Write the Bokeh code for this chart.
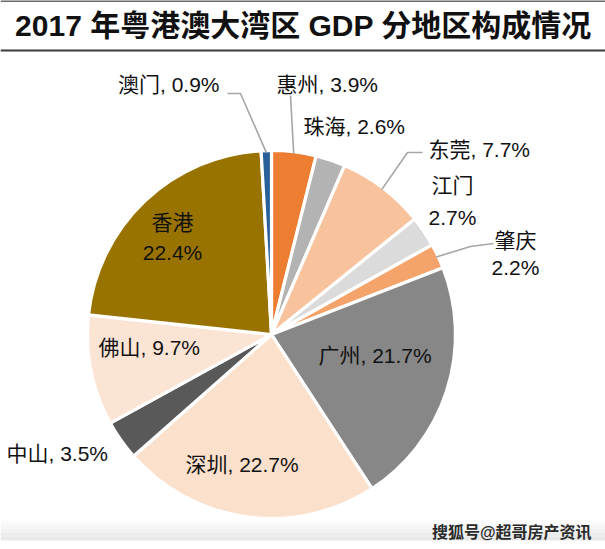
import numpy as np
from bokeh.plotting import figure
from bokeh.models import ColumnDataSource, Range1d
from bokeh.core.properties import value
from bokeh.embed import file_html
from bokeh.resources import INLINE

# ---------------- data ----------------
regions = ["惠州", "珠海", "东莞", "江门", "肇庆", "广州", "深圳", "中山", "佛山", "香港", "澳门"]
shares = [3.9, 2.6, 7.7, 2.7, 2.2, 21.7, 22.7, 3.5, 9.7, 22.4, 0.9]
colors = ["#ED7D31", "#B3B3B3", "#F8C29C", "#DBDBDB", "#F4A46A", "#878787",
          "#FBE0CC", "#595959", "#FCE4D4", "#997300", "#2A6099"]
title_text = "2017 年粤港澳大湾区 GDP 分地区构成情况"
watermark = "搜狐号@超哥房产资讯"

# ---------------- layout ----------------
W, H = 605, 549
def Y(py):  # pixel row -> data y
    return H - py

cx, cy, R = 271, Y(334), 184
FONT = "Liberation Sans, Noto Sans CJK SC"
BOLD_FONT = "Liberation Sans, Noto Sans CJK SC"

vals = np.array(shares, dtype=float)
frac = vals / vals.sum()
cum_end = np.cumsum(frac)
cum_start = cum_end - frac
start_angle = np.pi / 2 - 2 * np.pi * cum_end
end_angle = np.pi / 2 - 2 * np.pi * cum_start
mid_angle = (start_angle + end_angle) / 2

p = figure(width=W, height=H, x_range=Range1d(0, W), y_range=Range1d(0, H),
           output_backend="svg", toolbar_location=None, min_border=0)
p.axis.visible = False
p.grid.visible = False
p.outline_line_color = None
p.background_fill_color = "white"
p.border_fill_color = "white"

# title rules
p.segment(x0=[0, 0], y0=[Y(0.5), Y(50)], x1=[W, W], y1=[Y(0.5), Y(50)],
          line_color="#3a3a3a", line_width=[1.5, 2.2])
p.text(x=[W / 2 + 0.5], y=[Y(25)], text=[title_text], text_font=value(BOLD_FONT),
       text_font_style="bold", text_font_size="30px", text_align="center",
       text_baseline="middle", text_color="#111111")

# bottom watermark band
band_tops = [520, 524, 528, 532, 536]
band_cols = ["#fbfbfb", "#f6f6f6", "#f1f1f1", "#ececec", "#e8e8e8"]
p.quad(left=0, right=W, top=[Y(t) for t in band_tops], bottom=[Y(t + 4) for t in band_tops],
       fill_color=band_cols, line_color=None)

# pie
src = ColumnDataSource(dict(start=start_angle, end=end_angle, color=colors))
p.wedge(x=cx, y=cy, radius=R, start_angle="start", end_angle="end",
        fill_color="color", line_color="white", line_width=3.2, source=src)

# leader lines (inner end from slice mid-angle, outer end is label layout)
idx = {n: i for i, n in enumerate(regions)}
def edge_pt(name, rr=R - 2):
    a = mid_angle[idx[name]]
    return cx + rr * np.cos(a), cy + rr * np.sin(a)

leaders = {
    "澳门": [(227, 93), (240, 93)],
    "惠州": [(290, 95)],
    "东莞": [(422, 152), (407, 152)],
    "肇庆": [(493, 243), (470, 246)],
}
for name, pts in leaders.items():
    ex, ey = edge_pt(name)
    xs = [px for px, py in pts] + [ex]
    ys = [Y(py) for px, py in pts] + [ey]
    p.line(xs, ys, line_color="#A6A6A6", line_width=1.6)

# labels
def pct(name):
    return f"{shares[idx[name]]}%"

one_line = [  # name, x, y(pixel), align
    ("澳门", 219, 84, "right"),
    ("惠州", 276, 84, "left"),
    ("珠海", 303, 126, "left"),
    ("东莞", 428, 149, "left"),
    ("佛山", 98, 347, "left"),
    ("广州", 318, 355, "left"),
    ("中山", 6, 453, "left"),
    ("深圳", 185, 464, "left"),
]
two_line = [  # name, x center, y name, y pct
    ("江门", 452, 185, 217),
    ("肇庆", 515, 240, 267),
    ("香港", 172, 222, 252),
]

lab_x, lab_y, lab_t, lab_a = [], [], [], []
for name, x, y, a in one_line:
    lab_x.append(x); lab_y.append(Y(y)); lab_t.append(f"{name}, {pct(name)}"); lab_a.append(a)
for name, x, y1, y2 in two_line:
    lab_x += [x, x]; lab_y += [Y(y1), Y(y2)]; lab_t += [name, pct(name)]; lab_a += ["center", "center"]

lsrc = ColumnDataSource(dict(x=lab_x, y=lab_y, t=lab_t, a=lab_a))
p.text(x="x", y="y", text="t", text_align="a", source=lsrc, text_baseline="middle",
       text_font=value(FONT), text_font_size="21px", text_color="#111111")

# watermark
p.text(x=[591], y=[Y(532)], text=[watermark], text_font=value(BOLD_FONT),
       text_font_style="bold", text_font_size="16px", text_align="right",
       text_baseline="middle", text_color="#2a2a2a")

open("out.html", "w").write(file_html(p, INLINE))
